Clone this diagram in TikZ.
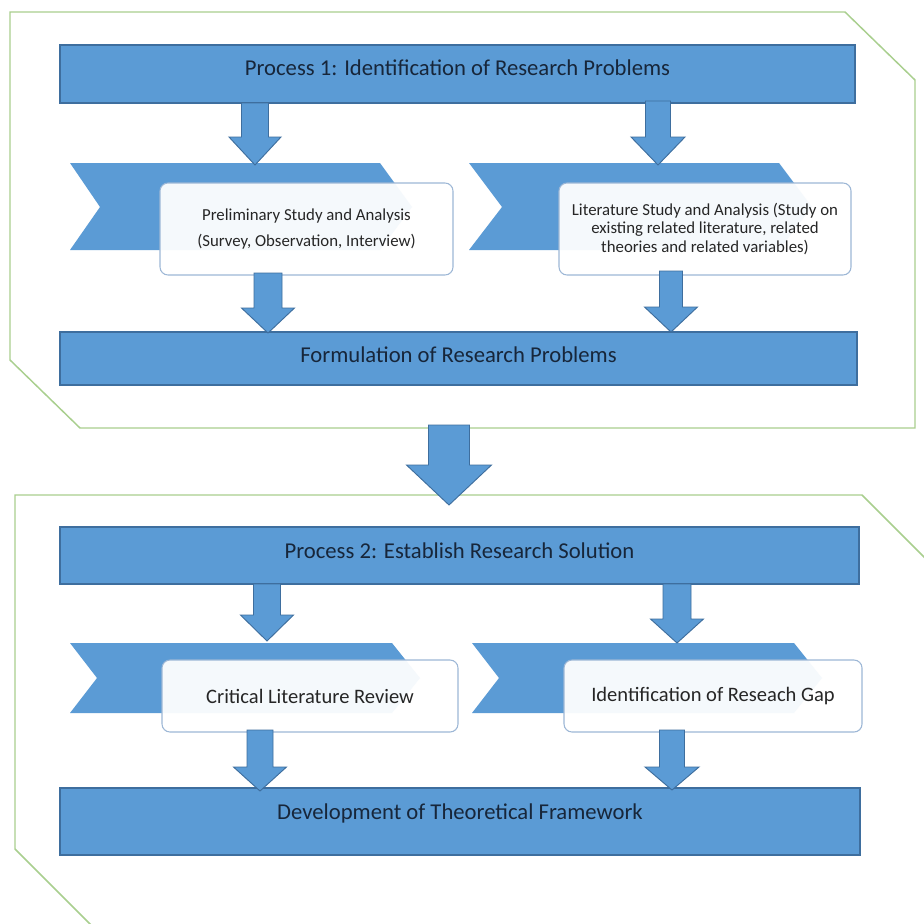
\documentclass[tikz,border=0pt]{standalone}
\usepackage{fontspec}
\setmainfont{Carlito}
\usetikzlibrary{calc}
\definecolor{barblue}{HTML}{5B9BD5}
\definecolor{barline}{HTML}{3E6E9E}
\definecolor{framegreen}{HTML}{A9CF8E}
\definecolor{boxline}{HTML}{9DB7D6}
\definecolor{titletext}{HTML}{17263A}
\definecolor{boxtext}{HTML}{262626}
\tikzset{
  bar/.style={draw=barline, line width=0.9pt, fill=barblue, inner sep=0pt},
  bartext/.style={text=titletext, font=\fontsize{17}{20}\selectfont, inner sep=0pt},
  chevron/.style={fill=barblue, draw=none},
  stepbox/.style={draw=boxline, line width=0.8pt, fill=white, fill opacity=0.94,
    text opacity=1, rounded corners=6pt, inner sep=0pt, text=boxtext, align=center},
  arrowblock/.style={fill=barblue, draw=barline, line width=0.7pt, line join=miter},
  frame/.style={draw=framegreen, line width=1.1pt, line join=miter}
}
% block arrow pointing down: centre x, top y, neck y, tip y, half shaft, half head
\newcommand\blockdown[6]{%
  \filldraw[arrowblock] (#1-#5,#2) -- (#1+#5,#2) -- (#1+#5,#3) -- (#1+#6,#3)
    -- (#1,#4) -- (#1-#6,#3) -- (#1-#5,#3) -- cycle;}
\begin{document}
\begin{tikzpicture}[x=0.75pt,y=-0.75pt]
\useasboundingbox (0,0) rectangle (924,924);
\fill[white] (0,0) rectangle (924,924);

% green process frames
\draw[frame] (10,12) -- (845,12) -- (915,80) -- (915,428) -- (80,428) -- (10,360) -- cycle;
\begin{scope}
  \clip (0,0) rectangle (924,924);
  \draw[frame] (945,578) -- (862,495) -- (15,495) -- (15,849) -- (100,934);
\end{scope}

% process 1
\node[bar, minimum width={795*0.75pt}, minimum height={58*0.75pt}] (p1) at (457.5,74) {};
\node[bartext] (p1t) at ($(p1.center)+(0,-6)$) {Process 1: Identification of Research Problems};

\fill[chevron] (70,163) -- (380,163) -- (412,207) -- (380,250) -- (70,250) -- (100,207) -- cycle;
\fill[chevron] (469,163) -- (779,163) -- (812,207) -- (779,250) -- (469,250) -- (502,207) -- cycle;

\node[stepbox, minimum width={293*0.75pt}, minimum height={92*0.75pt},
  font=\fontsize{12.6}{19.5}\selectfont] (s1) at (306.5,229)
  {Preliminary Study and Analysis\\(Survey, Observation, Interview)};
\node[stepbox, minimum width={292*0.75pt}, minimum height={92*0.75pt},
  font=\fontsize{12.6}{13.8}\selectfont] (s2) at (705,229)
  {Literature Study and Analysis (Study on\\existing related literature, related\\theories and related variables)};

\node[bar, minimum width={797*0.75pt}, minimum height={53*0.75pt}] (f1) at (458.5,358.5) {};
\node[bartext] (f1t) at ($(f1.center)+(0,-4)$) {Formulation of Research Problems};

% process 2
\node[bar, minimum width={799*0.75pt}, minimum height={57*0.75pt}] (p2) at (459.5,555.5) {};
\node[bartext] (p2t) at ($(p2.center)+(0,-5)$) {Process 2: Establish Research Solution};

\fill[chevron] (70,643) -- (392,643) -- (420,678) -- (392,713) -- (70,713) -- (97,678) -- cycle;
\fill[chevron] (472,643) -- (794,643) -- (822,678) -- (794,713) -- (472,713) -- (499,678) -- cycle;

\node[stepbox, minimum width={296*0.75pt}, minimum height={72*0.75pt},
  font=\fontsize{15.4}{18}\selectfont] (s3) at (310,696) {Critical Literature Review};
\node[stepbox, minimum width={298*0.75pt}, minimum height={72*0.75pt},
  font=\fontsize{15.4}{18}\selectfont] (s4) at (713,696) {Identification of Reseach Gap};

\node[bar, minimum width={800*0.75pt}, minimum height={67*0.75pt}] (d1) at (460,821.5) {};
\node[bartext] (d1t) at ($(d1.center)+(0,-8)$) {Development of Theoretical Framework};

% block arrows
\blockdown{255}{103}{137}{165}{13.5}{26}
\blockdown{658}{101}{137}{165}{12.5}{27}
\blockdown{268}{273}{308}{333}{14}{26.5}
\blockdown{671}{271}{307}{332}{11.5}{26.5}
\blockdown{449}{425}{465}{505}{20.5}{42.5}
\blockdown{267}{584}{615}{641}{13.5}{26.5}
\blockdown{677}{584}{619}{643}{14}{26.5}
\blockdown{260}{730}{767}{791}{13}{26.5}
\blockdown{672}{730}{767}{790}{12.5}{27}
\end{tikzpicture}
\end{document}
